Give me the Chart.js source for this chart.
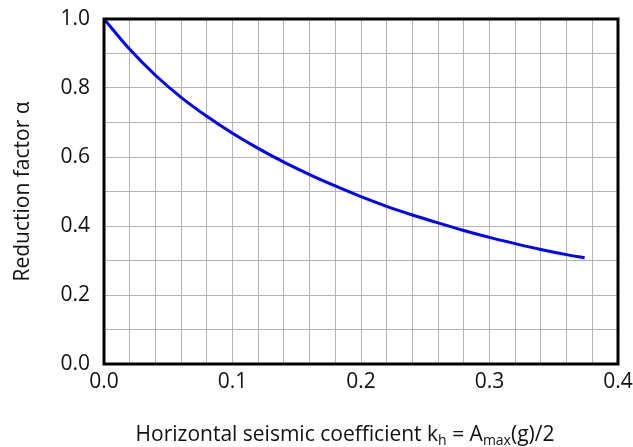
<!DOCTYPE html>
<html>
<head>
<meta charset="utf-8">
<script src="https://cdn.jsdelivr.net/npm/chart.js@4.4.1/dist/chart.umd.min.js"></script>
<style>
  html, body { margin: 0; padding: 0; background: #fff; }
  #wrap { width: 633px; height: 447px; }
</style>
</head>
<body>
<div id="wrap"><canvas id="chart" width="633" height="447"></canvas></div>
<script>
// Datos
const khValues = [0, 0.02, 0.04, 0.06, 0.08, 0.10, 0.12, 0.14, 0.16, 0.18, 0.20, 0.22, 0.24, 0.26, 0.28, 0.30, 0.32, 0.34, 0.36, 0.374];
const alphaValues = [1.0, 0.912, 0.837, 0.773, 0.718, 0.669, 0.625, 0.585, 0.549, 0.516, 0.485, 0.457, 0.432, 0.409, 0.387, 0.367, 0.349, 0.332, 0.317, 0.308];
const xTickLabels = ['0.0', '0.1', '0.2', '0.3', '0.4'];
const yTickLabels = ['0.0', '0.2', '0.4', '0.6', '0.8', '1.0'];

const FONT = '"Open Sans", sans-serif';

// Marco negro y títulos de los ejes (con subíndices)
const framePlugin = {
    id: 'frame',
    afterDraw(chart) {
        const ctx = chart.ctx;
        const a = chart.chartArea;
        ctx.save();
        ctx.strokeStyle = '#000';
        ctx.lineWidth = 3;
        ctx.strokeRect(a.left, a.top, a.right - a.left, a.bottom - a.top);

        // Título eje Y
        ctx.fillStyle = '#111';
        ctx.font = '21px ' + FONT;
        ctx.textAlign = 'center';
        ctx.textBaseline = 'middle';
        ctx.translate(23, (a.top + a.bottom) / 2);
        ctx.rotate(-Math.PI / 2);
        ctx.fillText('Reduction factor α', 0, 0);
        ctx.restore();

        // Título eje X
        ctx.save();
        ctx.fillStyle = '#111';
        ctx.textBaseline = 'alphabetic';
        const parts = [
            { t: 'Horizontal seismic coefficient k', s: 21, dy: 0 },
            { t: 'h', s: 14, dy: 4 },
            { t: ' = A', s: 21, dy: 0 },
            { t: 'max', s: 14, dy: 4 },
            { t: '(g)/2', s: 21, dy: 0 }
        ];
        let total = 0;
        parts.forEach(p => {
            ctx.font = p.s + 'px ' + FONT;
            p.w = ctx.measureText(p.t).width;
            total += p.w;
        });
        let x = 345 - total / 2;
        const base = 441;
        parts.forEach(p => {
            ctx.font = p.s + 'px ' + FONT;
            ctx.fillText(p.t, x, base + p.dy);
            x += p.w;
        });
        ctx.restore();
    }
};

new Chart(document.getElementById('chart'), {
    type: 'line',
    data: {
        datasets: [{
            data: khValues.map((k, i) => ({ x: k, y: alphaValues[i] })),
            borderColor: '#0000ff',
            borderWidth: 3,
            pointRadius: 0,
            fill: false,
            cubicInterpolationMode: 'monotone'
        }]
    },
    options: {
        responsive: false,
        animation: false,
        layout: { padding: { left: 0, top: 19, right: 15, bottom: 0 } },
        plugins: {
            legend: { display: false },
            tooltip: { enabled: false }
        },
        scales: {
            x: {
                type: 'linear',
                min: 0,
                max: 0.4,
                afterFit: function(scale) {
                    scale.height = 83;
                    scale.paddingLeft = 0;
                    scale.paddingRight = 0;
                },
                grid: { color: '#b4b4b4', lineWidth: 1, drawTicks: false },
                border: { display: false },
                ticks: {
                    stepSize: 0.02,
                    autoSkip: false,
                    maxRotation: 0,
                    padding: 5,
                    color: '#111',
                    font: { family: FONT, size: 21 },
                    callback: function(v) {
                        const i = Math.round(v * 50);
                        return i % 5 === 0 ? xTickLabels[i / 5] : '';
                    }
                }
            },
            y: {
                min: 0,
                max: 1.0,
                afterFit: function(scale) {
                    scale.width = 104;
                    scale.paddingTop = 0;
                    scale.paddingBottom = 0;
                },
                grid: { color: '#b4b4b4', lineWidth: 1, drawTicks: false },
                border: { display: false },
                ticks: {
                    stepSize: 0.1,
                    autoSkip: false,
                    padding: 14,
                    color: '#111',
                    font: { family: FONT, size: 21 },
                    callback: function(v) {
                        const i = Math.round(v * 10);
                        return i % 2 === 0 ? yTickLabels[i / 2] : '';
                    }
                }
            }
        }
    },
    plugins: [framePlugin]
});
</script>
</body>
</html>
